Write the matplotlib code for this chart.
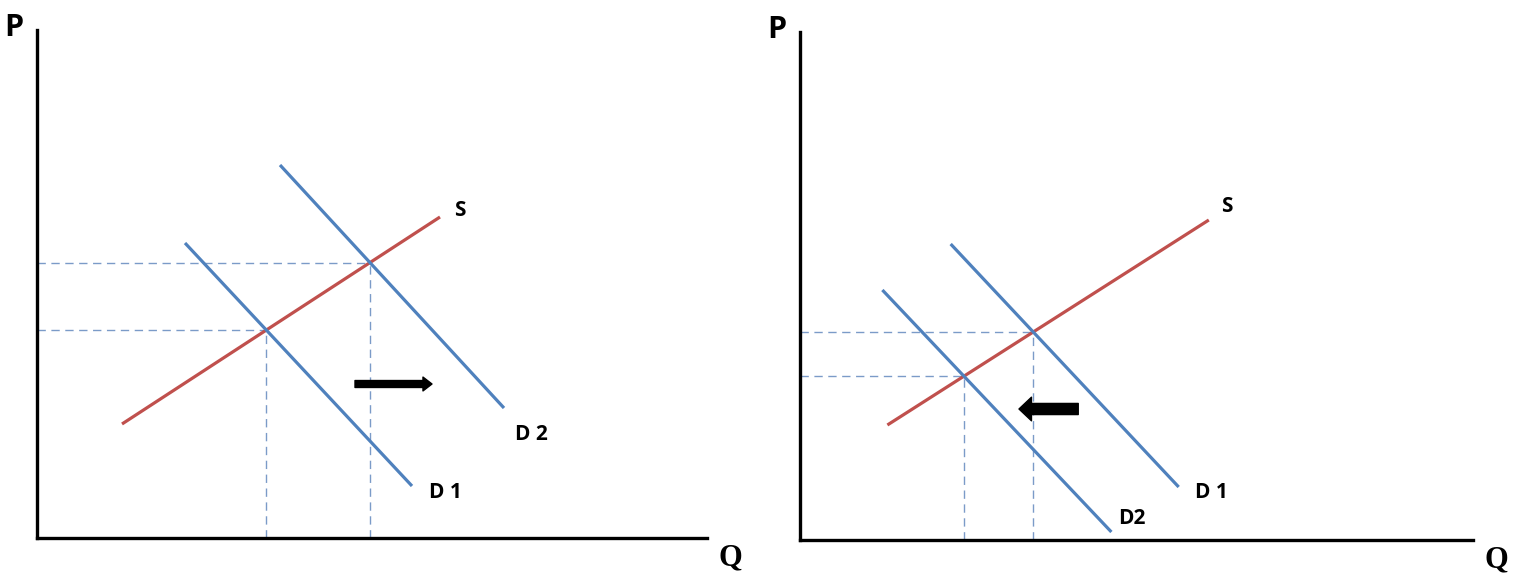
import numpy as np
import matplotlib.pyplot as plt

# line endpoints (q, p), per panel
left_S_q, left_S_p = [85, 403], [114, 321]
left_D1_q, left_D1_p = [148, 375], [295, 52]
left_D2_q, left_D2_p = [243, 467], [373, 130]
left_arrow = [(318, 154), (395, 154)]

right_S_q, right_S_p = [87, 407], [115, 320]
right_D1_q, right_D1_p = [150, 377], [296, 53]
right_D2_q, right_D2_p = [82, 310], [250, 8]
right_arrow = [(277, 131), (218, 131)]

red = '#c0504d'
blue = '#4f81bd'
dash_blue = '#7b9bc8'


def intersect(q1, p1, q2, p2):
    m1 = (p1[1] - p1[0]) / (q1[1] - q1[0])
    m2 = (p2[1] - p2[0]) / (q2[1] - q2[0])
    q = (p2[0] - p1[0] + m1 * q1[0] - m2 * q2[0]) / (m1 - m2)
    return q, p1[0] + m1 * (q - q1[0])


def panel(ax, S, D1, D2, arrow, arrow_style, labels):
    ax.set_xlim(0, 670)
    ax.set_ylim(0, 508)
    for side in ['top', 'right']:
        ax.spines[side].set_visible(False)
    for side in ['left', 'bottom']:
        ax.spines[side].set_linewidth(2.4)
    ax.set_xticks([])
    ax.set_yticks([])
    ax.patch.set_alpha(0)

    for D in (D1, D2):
        q, p = intersect(*S, *D)
        ax.plot([0, q], [p, p], color=dash_blue, lw=1, ls=(0, (6, 4)))
        ax.plot([q, q], [0, p], color=dash_blue, lw=1, ls=(0, (6, 4)))

    ax.plot(*S, color=red, lw=2.3, solid_capstyle='butt')
    ax.plot(*D1, color=blue, lw=2.3, solid_capstyle='butt')
    ax.plot(*D2, color=blue, lw=2.3, solid_capstyle='butt')

    ax.annotate('', xy=arrow[1], xytext=arrow[0],
                arrowprops=dict(arrowstyle=arrow_style, color='black',
                                shrinkA=0, shrinkB=0))

    for txt, (x, y) in labels.items():
        ax.text(x, y, txt, fontsize=15, fontweight='bold', family='Open Sans',
                va='center', ha='left')
    ax.text(-23, 510, 'P', fontsize=22, fontweight='bold', family='Open Sans',
            va='center', ha='center', clip_on=False)
    ax.text(693, -20, 'Q', fontsize=22, fontweight='bold', family='Liberation Serif',
            va='center', ha='center', clip_on=False)


fig = plt.figure(figsize=(15.17, 5.88), dpi=100)
ax1 = fig.add_axes([37 / 1517, 50 / 588, 670 / 1517, 508 / 588])
ax2 = fig.add_axes([800 / 1517, 48 / 588, 673 / 1517, 508 / 588])

panel(ax1, (left_S_q, left_S_p), (left_D1_q, left_D1_p), (left_D2_q, left_D2_p),
      left_arrow, 'simple,head_length=0.65,head_width=1.0,tail_width=0.5',
      {'S': (417, 328), 'D 1': (392, 45), 'D 2': (478, 103)})
panel(ax2, (right_S_q, right_S_p), (right_D1_q, right_D1_p), (right_D2_q, right_D2_p),
      right_arrow, 'simple,head_length=0.9,head_width=1.7,tail_width=0.8',
      {'S': (419, 333), 'D 1': (393, 47), 'D2': (317, 22)})

fig.savefig('out.png', dpi=100)
